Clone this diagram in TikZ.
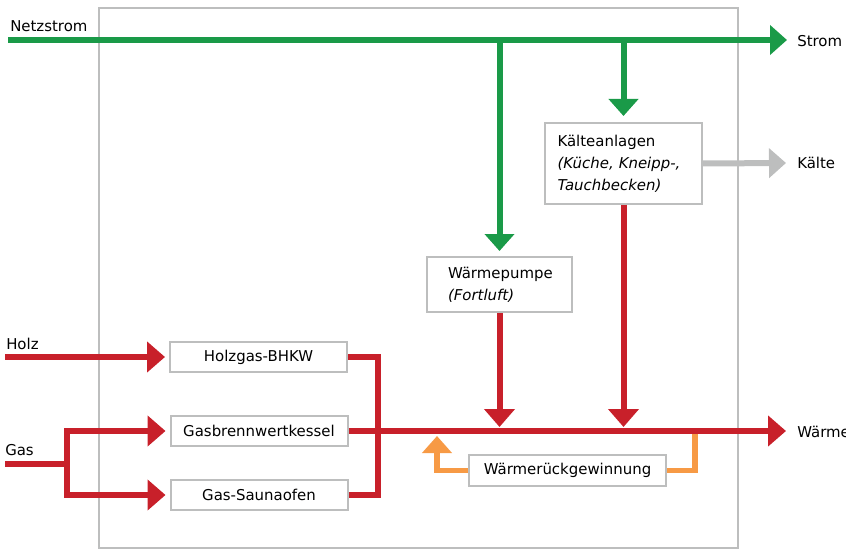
\documentclass[tikz,border=0pt]{standalone}
\usepackage{fontspec}
\setmainfont{DejaVu Sans}
\usepackage{xcolor}
\usepackage{tikz}
\usetikzlibrary{arrows.meta,calc}
\usetikzlibrary{positioning}

\definecolor{gruen}{RGB}{26,154,72}
\definecolor{rot}{RGB}{200,32,42}
\definecolor{orangeb}{RGB}{247,154,69}
\definecolor{grau}{RGB}{189,190,190}

\tikzset{
  box/.style={draw=grau, line width=1.5pt, fill=white, inner sep=0pt,
    minimum height=22.5pt, font=\fontsize{11.2}{16.5}\selectfont},
  lbl/.style={inner sep=0pt, font=\fontsize{11.2}{16.5}\selectfont},
  gline/.style={draw=gruen, line width=4.5pt},
  garrow/.style={gline, -{Triangle[width=21.75pt,length=12.75pt]}},
  rline/.style={draw=rot, line width=4.5pt, line join=miter},
  rarrow/.style={rline, -{Triangle[width=22.5pt,length=13.5pt]}},
  oline/.style={draw=orangeb, line width=4.2pt, line join=miter},
  oarrow/.style={oline, -{Triangle[width=21.75pt,length=12.75pt]}},
  karrow/.style={draw=grau, line width=4.5pt, -{Triangle[width=21.75pt,length=12.75pt]}}
}

\begin{document}
\begin{tikzpicture}[x=0.75pt,y=0.75pt,yscale=-1,xscale=1]
\useasboundingbox (0,0) rectangle (846,549);

%Shape: Rectangle [Bilanzgrenze]
\draw [grau, line width=1.5pt] (99,8) rectangle (738,548);

%Labels
\node [lbl, anchor=base west] (netzstrom) at (10,32) {Netzstrom};
\node [lbl, anchor=base west] (holz) at (6,349) {Holz};
\node [lbl, anchor=base west] (gas) at (5,455) {Gas};
\node [lbl, anchor=west] (strom) at (797,41) {Strom};
\node [lbl, anchor=west] (kaeltelbl) at (797,163) {Kälte};
\node [lbl, anchor=west] (waerme) at (797,432) {Wärme};

%Coordinates
\coordinate (netzin) at (8,40);
\coordinate (stromend) at (787,40);
\coordinate (holzin) at (5,357);
\coordinate (gasin) at (5,464);
\coordinate (gasfork) at (67,464);
\coordinate (sammel) at (378,357);
\coordinate (waermeend) at (786,431);
\coordinate (kaelteend) at (786,163);
\coordinate (wrgab) at (695,431);
\coordinate (wrgzu) at (437,436);

%Shape: Rectangle [Kessel und BHKW]
\node [box, minimum width=132.75pt] (bhkw) at (258.5,357) {Holzgas-BHKW};
\node [box, minimum width=132.75pt] (gbk) at (259,431) {Gasbrennwertkessel};
\node [box, minimum width=132.75pt] (sauna) at (259,495) {Gas-Saunaofen};
%Shape: Rectangle [Wärmepumpe]
\node [box, minimum width=108.75pt, minimum height=41.25pt, text width=77.25pt,
  inner xsep=15.75pt, align=left] (wp) at (499.5,284.5) {Wärmepumpe\\\textit{(Fortluft)}};
%Shape: Rectangle [Kälteanlagen]
\node [box, minimum width=117.75pt, minimum height=60.75pt, text width=99pt,
  inner xsep=9.375pt, align=left] (kaelte) at (623.5,163.5)
  {Kälteanlagen\\\textit{(Küche, Kneipp-,}\\\textit{Tauchbecken)}};
%Shape: Rectangle [Wärmerückgewinnung]
\node [box, minimum width=147.75pt, minimum height=23.25pt] (wrg) at (567.5,470.5) {Wärmerückgewinnung};

%Straight Lines [Strom]
\draw [garrow] (netzin) -- (stromend);
\draw [garrow, shorten >=3.75pt] (wp.north |- netzin) -- (wp.north);
\draw [garrow, shorten >=4.5pt] (kaelte.north |- netzin) -- (kaelte.north);

%Straight Lines [Kälte]
\draw [karrow] (kaelte.east) -- (kaelteend);

%Straight Lines [Wärmerückgewinnung]
\draw [oline] (wrg.east) -| (wrgab);
\draw [oarrow] (wrg.west) -| (wrgzu);

%Straight Lines [Brennstoffe]
\draw [rarrow, shorten >=3pt] (holzin) -- (bhkw.west);
\draw [rline] (gasin) -- (gasfork);
\draw [rarrow, shorten >=3pt] (gasfork) |- (gbk.west);
\draw [rarrow, shorten >=3pt] (gasfork) |- (sauna.west);

%Straight Lines [Wärme]
\draw [rline] (bhkw.east) -- (sammel) |- (sauna.east);
\draw [rarrow] (gbk.east) -- (waermeend);
\draw [rarrow, shorten >=3pt] (wp.south) -- (wp.south |- waermeend);
\draw [rarrow, shorten >=3pt] (kaelte.south) -- (kaelte.south |- waermeend);

\end{tikzpicture}
\end{document}
